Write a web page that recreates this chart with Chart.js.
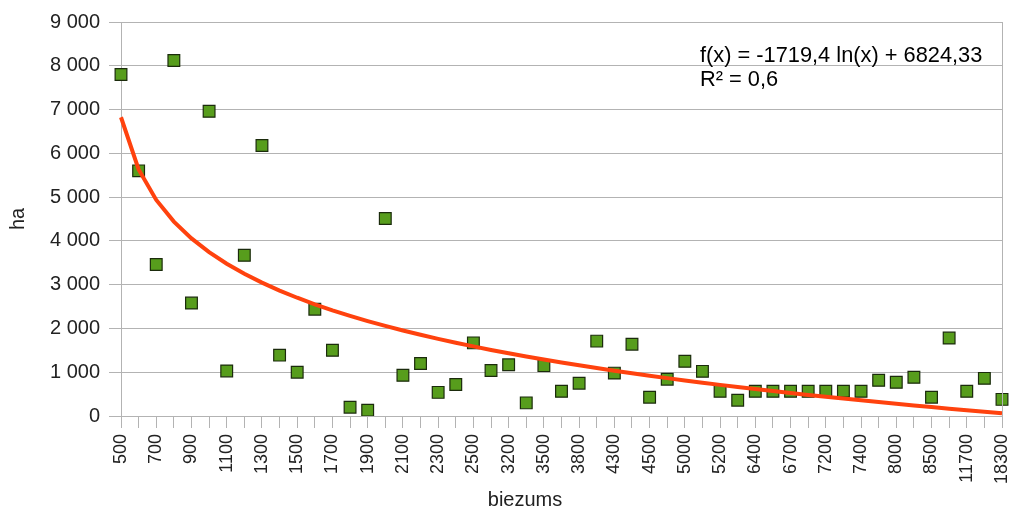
<!DOCTYPE html>
<html>
<head>
<meta charset="utf-8">
<script src="https://cdn.jsdelivr.net/npm/chart.js@4"></script>
<style>
  html, body { margin: 0; padding: 0; background: #ffffff; }
  #wrap { width: 1009px; height: 509px; }
</style>
</head>
<body>
<div id="wrap"><canvas id="c" width="1009" height="509"></canvas></div>
<script>
// ---- data ----
const categories = [
  500, 600, 700, 800, 900, 1000, 1100, 1200, 1300, 1400,
  1500, 1600, 1700, 1800, 1900, 2000, 2100, 2200, 2300, 2400,
  2500, 3000, 3200, 3300, 3500, 3600, 3800, 4000, 4300, 4400,
  4500, 4800, 5000, 5100, 5200, 6000, 6400, 6500, 6700, 7000,
  7200, 7300, 7400, 7800, 8000, 8200, 8500, 9000, 11700, 12500,
  18300
];
const areaHa = [
  7800, 5600, 3460, 8120, 2580, 6960, 1030, 3670, 6180, 1390,
  1000, 2440, 1500, 200, 130, 4510, 930, 1200, 540, 720,
  1670, 1040, 1170, 300, 1150, 565, 750, 1710, 980, 1640,
  430, 840, 1250, 1020, 565, 360, 565, 565, 565, 565,
  565, 565, 565, 815, 770, 885, 430, 1780, 565, 860,
  380
];
const yTicks = [0, 1000, 2000, 3000, 4000, 5000, 6000, 7000, 8000, 9000];
// logarithmic trend line coefficients as shown on the chart
const trendSlope = -1719.4;
const trendIntercept = 6824.33;
const trendR2 = 0.6;

const trendValues = categories.map((c, i) => trendSlope * Math.log(i + 1) + trendIntercept);

const fmtNum = v => String(v).replace(/\B(?=(\d{3})+(?!\d))/g, ' ');
const fmtDec = v => String(v).replace('.', ',');

const FONT = "'Liberation Sans', Arial, sans-serif";
const GRID = '#b3b3b3';

const overlay = {
  id: 'overlay',
  afterDraw(chart) {
    const { ctx, chartArea } = chart;
    ctx.save();
    // plot frame (right edge)
    ctx.strokeStyle = GRID;
    ctx.lineWidth = 1;
    ctx.beginPath();
    ctx.moveTo(Math.round(chartArea.right) + 0.5, chartArea.top);
    ctx.lineTo(Math.round(chartArea.right) + 0.5, chartArea.bottom);
    ctx.stroke();
    // equation
    ctx.fillStyle = '#000000';
    ctx.font = '21.8px ' + FONT;
    ctx.textAlign = 'left';
    ctx.textBaseline = 'alphabetic';
    const sign = trendIntercept >= 0 ? '+' : '-';
    ctx.fillText('f(x) = ' + fmtDec(trendSlope) + ' ln(x) ' + sign + ' ' + fmtDec(Math.abs(trendIntercept)), 700, 62);
    ctx.fillText('R\u00B2 = ' + fmtDec(trendR2), 700, 86);
    // x axis title
    ctx.font = '20px ' + FONT;
    ctx.textAlign = 'center';
    ctx.fillStyle = '#222222';
    ctx.fillText('biezums', 525, 506);
    ctx.restore();
  }
};

new Chart(document.getElementById('c'), {
  type: 'line',
  data: {
    labels: categories,
    datasets: [
      {
        label: 'trend',
        data: trendValues,
        borderColor: '#ff420e',
        borderWidth: 4,
        pointRadius: 0,
        tension: 0,
        fill: false
      },
      {
        label: 'ha',
        data: areaHa,
        showLine: false,
        pointStyle: 'rect',
        pointRadius: 8.3,
        pointHoverRadius: 8.3,
        backgroundColor: '#579d1c',
        borderColor: '#1b2b0c',
        borderWidth: 1.2
      }
    ]
  },
  options: {
    responsive: false,
    animation: false,
    devicePixelRatio: 1,
    layout: { autoPadding: false, padding: { top: 22, right: 7, left: 0, bottom: 0 } },
    plugins: {
      legend: { display: false },
      tooltip: { enabled: false }
    },
    scales: {
      x: {
        type: 'category',
        offset: false,
        grid: { drawOnChartArea: false, color: GRID, tickLength: 12, lineWidth: 1 },
        border: { display: true, color: GRID, width: 1 },
        ticks: {
          autoSkip: false,
          minRotation: 90,
          maxRotation: 90,
          padding: 6,
          color: '#222222',
          font: { family: FONT, size: 18 },
          callback: function (value, index) {
            return index % 2 === 0 ? String(categories[index]) : '';
          }
        },
        afterFit(scale) {
          scale.height = 93;
          scale.paddingLeft = 0;
          scale.paddingRight = 0;
        }
      },
      y: {
        min: 0,
        max: 9000,
        afterBuildTicks(scale) {
          scale.ticks = yTicks.map(v => ({ value: v }));
        },
        grid: { color: GRID, tickLength: 12, lineWidth: 1 },
        border: { display: true, color: GRID, width: 1 },
        ticks: {
          padding: 9,
          color: '#222222',
          font: { family: FONT, size: 20 },
          callback: v => fmtNum(v)
        },
        title: {
          display: true,
          text: 'ha',
          color: '#222222',
          font: { family: FONT, size: 20 },
          padding: { top: 6, bottom: 0 }
        },
        afterFit(scale) {
          scale.width = 121;
        }
      }
    }
  },
  plugins: [overlay]
});
</script>
</body>
</html>
